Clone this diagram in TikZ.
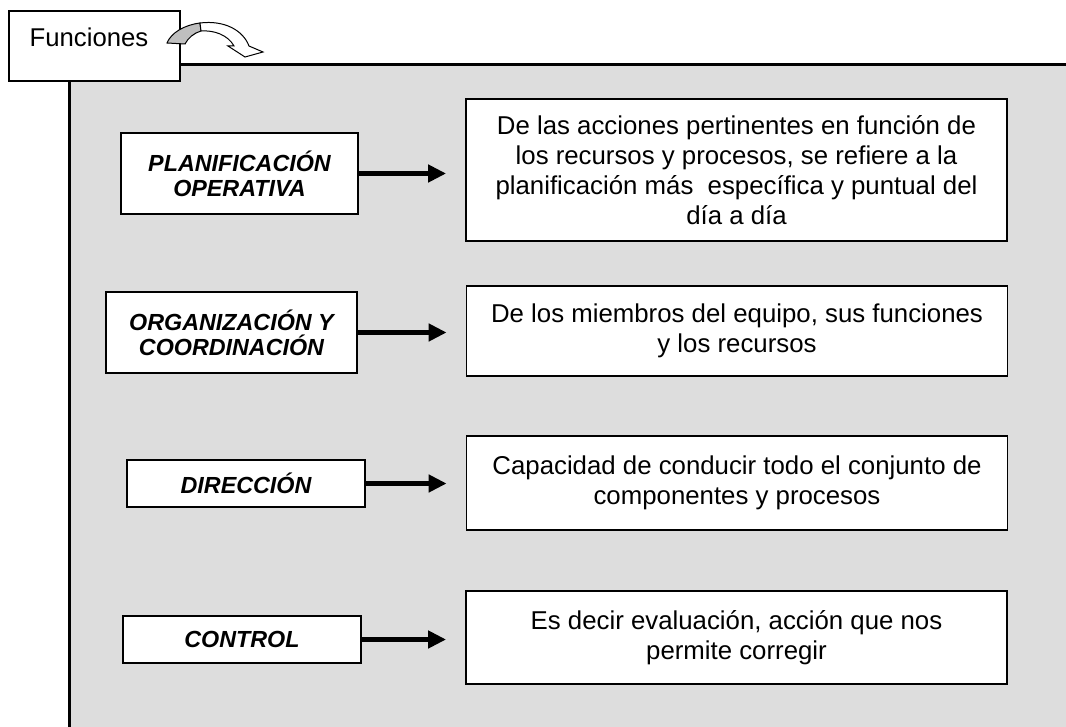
\documentclass[tikz,border=0pt]{standalone}
\usepackage{fontspec}
\setmainfont{Liberation Sans}
\usetikzlibrary{arrows.meta}
\definecolor{panelgris}{RGB}{221,221,221}

\begin{document}
\begin{tikzpicture}[x=1pt,y=-1pt,
    concepto/.style={draw,fill=white,line width=1.8pt,align=center,inner sep=0pt,
      font=\fontsize{23.3}{25}\selectfont\bfseries\itshape},
    detalle/.style={draw,fill=white,line width=1.8pt,align=center,inner sep=0pt,
      minimum width=541pt,font=\fontsize{25.8}{30}\selectfont},
    flecha/.style={line width=5pt,-{Triangle[length=18pt,width=17pt]},shorten >=19pt}]
  \useasboundingbox (0,0) rectangle (1066,727);

  % fondo gris
  \fill[panelgris] (69,65) rectangle (1070,730);
  \draw[line width=3pt] (69,730) -- (69,65) -- (1070,65);

  % titulo
  \node[draw,fill=white,line width=1.8pt,minimum width=171pt,minimum height=70pt,inner sep=0pt] (marco) at (94.5,46) {};
  \node[font=\fontsize{25.7}{30}\selectfont] (titulo) at (89,37) {Funciones};
  \filldraw[line width=1pt,fill=gray!50] (167,43) .. controls (171,33) and (184,25) .. (200,23)
    -- (201,31) .. controls (194,33) and (188,38) .. (185,44) -- cycle;
  \filldraw[line width=1pt,fill=white] (200,23) .. controls (224,20) and (243,30) .. (249,46)
    -- (263,52) -- (245,57) -- (228,46) -- (234,46) .. controls (228,35) and (214,30) .. (201,31) -- cycle;

  % funciones
  \node[concepto,minimum width=237pt,minimum height=81pt] (plan) at (239.5,173.5) {PLANIFICACIÓN\\OPERATIVA};
  \node[concepto,minimum width=251pt,minimum height=81pt] (org) at (231.5,332.5) {ORGANIZACIÓN Y\\COORDINACIÓN};
  \node[concepto,minimum width=238pt,minimum height=47pt] (dir) at (246,483.5) {DIRECCIÓN};
  \node[concepto,minimum width=238pt,minimum height=47pt] (ctrl) at (242,639.5) {CONTROL};

  \node[detalle,minimum height=142pt] (planinfo) at (736.5,170) {De las acciones pertinentes en función de\\los recursos y procesos, se refiere a la\\planificación más~ específica y puntual del\\día a día};
  \node[detalle,minimum height=90pt] (orginfo) at (737,331) {De los miembros del equipo, sus funciones\\y los recursos};
  \node[detalle,minimum height=94pt] (dirinfo) at (737,483) {Capacidad de conducir todo el conjunto de\\componentes y procesos};
  \node[detalle,minimum height=93pt] (ctrlinfo) at (736.5,637.5) {Es decir evaluación, acción que nos\\permite corregir};

  \draw[flecha] (plan.east) -- (plan.east -| planinfo.west);
  \draw[flecha] (org.east) -- (org.east -| orginfo.west);
  \draw[flecha] (dir.east) -- (dir.east -| dirinfo.west);
  \draw[flecha] (ctrl.east) -- (ctrl.east -| ctrlinfo.west);
\end{tikzpicture}
\end{document}
